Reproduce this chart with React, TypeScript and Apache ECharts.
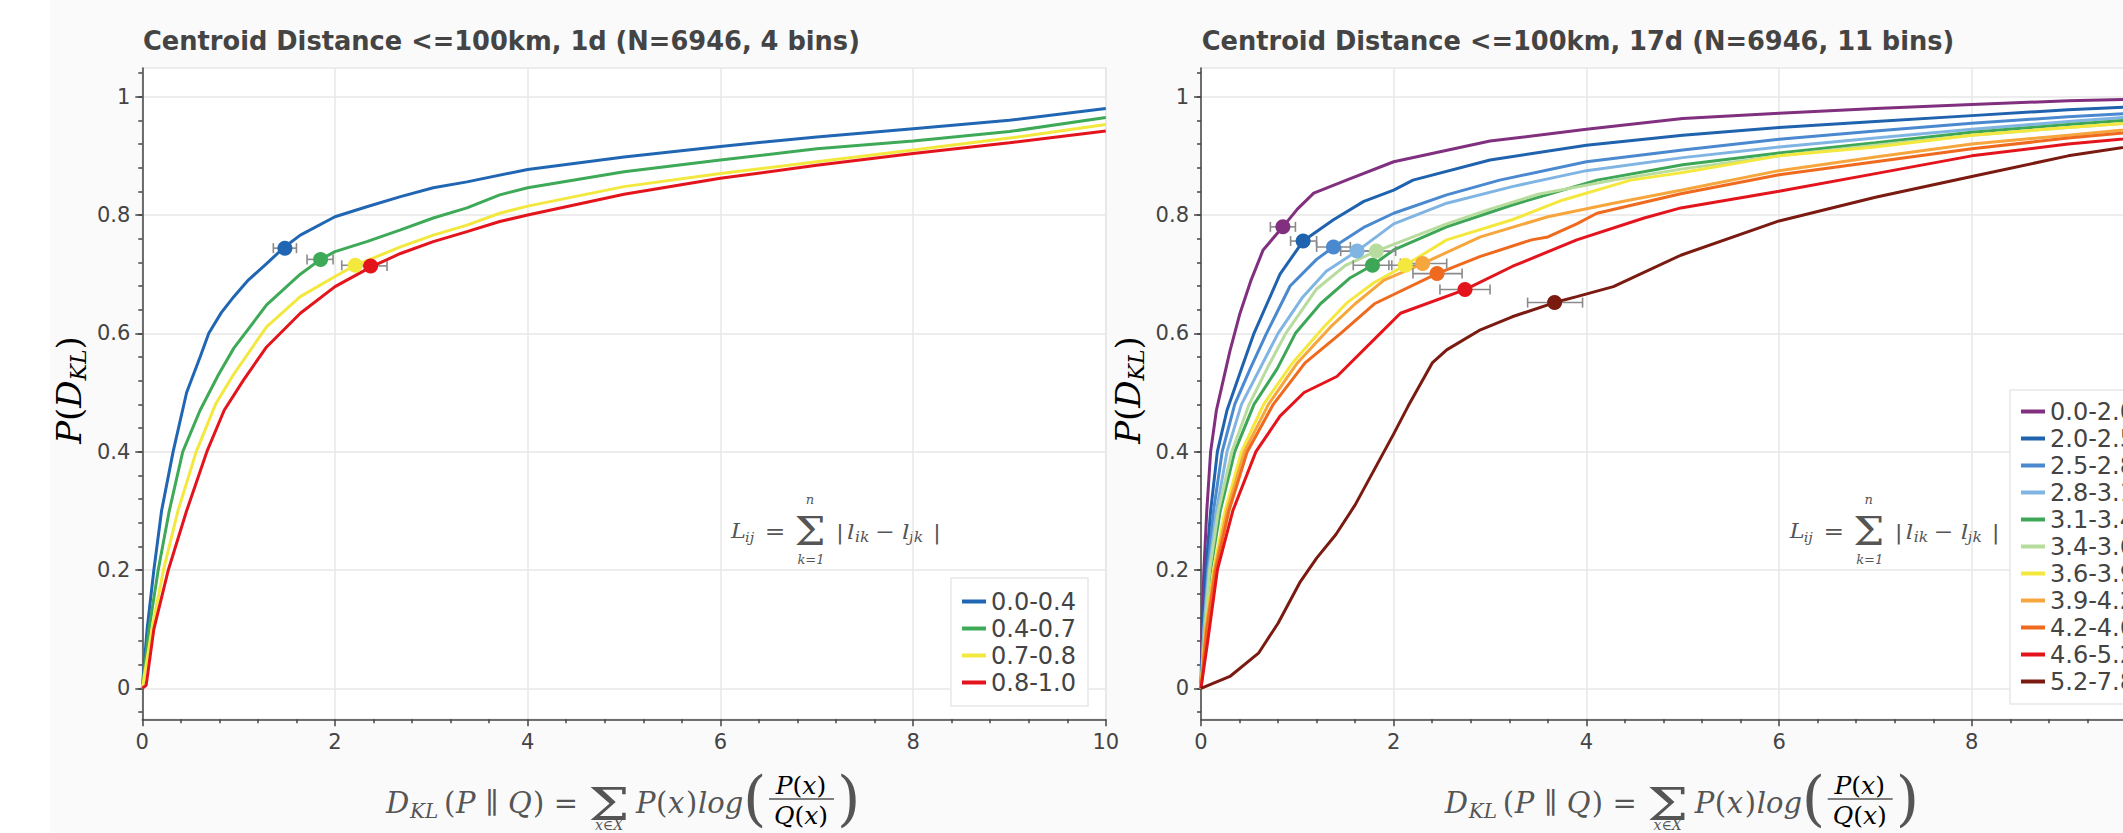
import React, { useEffect, useRef } from 'react';
import * as echarts from 'echarts';

// ---------- data: left figure (1d, 4 bins) ----------
const leftNames = ['0.0-0.4', '0.4-0.7', '0.7-0.8', '0.8-1.0'];
const leftColors = ['#2166b3', '#3eaa57', '#f3e83e', '#e3141c'];
const left_00_04 = [[0,0],[0.05,0.1],[0.12,0.2],[0.2,0.3],[0.32,0.4],[0.46,0.5],[0.6,0.56],[0.69,0.6],[0.82,0.635],[0.95,0.662],[1.1,0.69],[1.29,0.718],[1.47,0.745],[1.64,0.766],[2,0.797],[2.33,0.814],[2.68,0.831],[3.02,0.846],[3.37,0.856],[4,0.877],[5,0.898],[6,0.916],[7,0.932],[8,0.946],[9,0.96],[10,0.98]];
const left_04_07 = [[0,0],[0.07,0.1],[0.165,0.2],[0.28,0.3],[0.42,0.4],[0.6,0.47],[0.79,0.53],[0.95,0.575],[1.29,0.648],[1.64,0.7],[1.85,0.725],[2,0.738],[2.33,0.755],[2.68,0.775],[3.02,0.795],[3.37,0.812],[3.71,0.834],[4,0.846],[5,0.873],[6,0.893],[7,0.912],[8,0.925],[9,0.941],[10,0.965]];
const left_07_08 = [[0,0],[0.1,0.1],[0.22,0.2],[0.37,0.3],[0.56,0.4],[0.76,0.48],[0.945,0.53],[1.29,0.611],[1.64,0.662],[2,0.696],[2.21,0.715],[2.68,0.746],[3.02,0.766],[3.37,0.783],[3.71,0.803],[4,0.815],[5,0.848],[6,0.87],[7,0.89],[8,0.91],[9,0.93],[10,0.953]];
const left_08_10 = [[0,0],[0.04,0.005],[0.12,0.1],[0.27,0.2],[0.46,0.3],[0.67,0.4],[0.85,0.47],[1.05,0.521],[1.29,0.577],[1.64,0.634],[2,0.679],[2.37,0.712],[2.68,0.735],[3.02,0.755],[3.37,0.772],[3.71,0.789],[4,0.8],[5,0.835],[6,0.862],[7,0.884],[8,0.904],[9,0.922],[10,0.942]];
const leftCurves = [left_00_04, left_04_07, left_07_08, left_08_10];
// median marker: [x, y, errLow, errHigh]
const leftMedians = [[1.48,0.744,1.36,1.60],[1.85,0.725,1.71,1.98],[2.21,0.715,2.07,2.35],[2.37,0.714,2.23,2.54]];

// ---------- data: right figure (17d, 11 bins) ----------
const rightNames = ['0.0-2.0','2.0-2.5','2.5-2.8','2.8-3.1','3.1-3.4','3.4-3.6','3.6-3.9','3.9-4.2','4.2-4.6','4.6-5.2','5.2-7.8'];
const rightColors = ['#80307f','#1f62ad','#4a89cf','#80b5e3','#3ea757','#b7dc9d','#f4e83f','#f6a63c','#ef6a1e','#e4141c','#7a1a10'];
const r_00_20 = [[0,0],[0.01,0.1],[0.03,0.2],[0.06,0.3],[0.1,0.4],[0.16,0.47],[0.23,0.52],[0.3,0.57],[0.405,0.634],[0.52,0.69],[0.645,0.741],[0.85,0.78],[1.0,0.81],[1.17,0.837],[1.51,0.859],[2,0.89],[3,0.925],[4,0.945],[5,0.963],[6,0.972],[7,0.98],[8,0.987],[9,0.993],[10,0.997]];
const r_20_25 = [[0,0],[0.02,0.1],[0.05,0.2],[0.1,0.3],[0.17,0.4],[0.27,0.47],[0.42,0.54],[0.55,0.6],[0.82,0.7],[1.06,0.756],[1.375,0.792],[1.69,0.823],[2,0.842],[2.2,0.859],[3,0.893],[4,0.918],[5,0.935],[6,0.948],[7,0.958],[8,0.968],[9,0.978],[10,0.985]];
const r_25_28 = [[0,0],[0.03,0.1],[0.07,0.2],[0.13,0.3],[0.22,0.4],[0.35,0.48],[0.51,0.54],[0.68,0.6],[0.925,0.68],[1.2,0.725],[1.375,0.746],[1.7,0.78],[2,0.803],[2.55,0.834],[3.1,0.859],[4,0.89],[5,0.91],[6,0.928],[7,0.942],[8,0.955],[9,0.966],[10,0.975]];
const r_28_31 = [[0,0],[0.03,0.1],[0.08,0.2],[0.16,0.3],[0.27,0.4],[0.42,0.48],[0.61,0.54],[0.8,0.6],[1.05,0.66],[1.3,0.705],[1.62,0.739],[2,0.785],[2.55,0.82],[3.23,0.848],[4,0.875],[5,0.897],[6,0.915],[7,0.93],[8,0.945],[9,0.958],[10,0.97]];
const r_31_34 = [[0,0],[0.04,0.1],[0.1,0.2],[0.2,0.3],[0.35,0.4],[0.55,0.48],[0.79,0.54],[0.98,0.6],[1.24,0.65],[1.55,0.694],[1.78,0.715],[2,0.741],[2.55,0.78],[3.23,0.817],[4.11,0.859],[5,0.885],[6,0.905],[7,0.922],[8,0.94],[9,0.953],[10,0.965]];
const r_34_36 = [[0,0],[0.04,0.1],[0.09,0.2],[0.18,0.3],[0.32,0.4],[0.5,0.48],[0.7,0.545],[0.88,0.6],[1.2,0.675],[1.5,0.715],[1.82,0.739],[2.2,0.763],[2.55,0.785],[3,0.81],[3.5,0.835],[4.28,0.859],[5,0.878],[6,0.9],[7,0.918],[8,0.935],[9,0.948],[10,0.96]];
const r_36_39 = [[0,0],[0.05,0.1],[0.13,0.2],[0.25,0.3],[0.42,0.4],[0.65,0.48],[0.95,0.55],[1.27,0.61],[1.51,0.651],[1.79,0.685],[2.12,0.715],[2.55,0.758],[3.23,0.792],[3.75,0.825],[4.46,0.859],[5,0.872],[6,0.9],[7,0.915],[8,0.935],[9,0.948],[10,0.96]];
const r_39_42 = [[0,0],[0.05,0.1],[0.14,0.2],[0.27,0.3],[0.45,0.4],[0.7,0.48],[1.0,0.55],[1.34,0.61],[1.6,0.65],[1.9,0.69],[2.3,0.718],[2.9,0.763],[3.6,0.797],[4.28,0.82],[4.98,0.842],[6,0.875],[7,0.898],[8,0.92],[9,0.935],[10,0.95]];
const r_42_46 = [[0,0],[0.06,0.1],[0.15,0.2],[0.29,0.3],[0.48,0.4],[0.75,0.48],[1.08,0.55],[1.45,0.6],[1.8,0.65],[2.45,0.701],[2.9,0.73],[3.43,0.758],[3.6,0.763],[3.9,0.785],[4.11,0.803],[4.98,0.836],[6,0.868],[7,0.89],[8,0.912],[9,0.93],[10,0.945]];
const r_46_52 = [[0,0],[0.07,0.08],[0.17,0.2],[0.33,0.3],[0.57,0.4],[0.82,0.46],[1.07,0.5],[1.41,0.527],[1.86,0.6],[2.07,0.634],[2.74,0.674],[3.23,0.713],[3.9,0.758],[4.6,0.795],[4.98,0.812],[6,0.84],[7,0.87],[8,0.9],[9,0.92],[10,0.935]];
const r_52_78 = [[0,0],[0.3,0.02],[0.6,0.06],[0.8,0.11],[1.03,0.18],[1.2,0.22],[1.4,0.26],[1.6,0.31],[1.8,0.37],[2.0,0.43],[2.15,0.477],[2.4,0.55],[2.55,0.572],[2.9,0.606],[3.23,0.628],[3.67,0.652],[3.9,0.662],[4.28,0.679],[4.98,0.732],[6,0.79],[7,0.83],[8,0.865],[9,0.9],[10,0.925]];
const rightCurves = [r_00_20, r_20_25, r_25_28, r_28_31, r_31_34, r_34_36, r_36_39, r_39_42, r_42_46, r_46_52, r_52_78];
const rightMedians = [[0.85,0.78,0.72,0.98],[1.06,0.756,0.93,1.2],[1.375,0.746,1.2,1.55],[1.62,0.739,1.45,1.8],[1.78,0.715,1.58,1.98],[1.82,0.739,1.65,2.02],[2.12,0.715,1.95,2.3],[2.3,0.718,2.07,2.55],[2.45,0.701,2.2,2.71],[2.74,0.674,2.48,3.0],[3.67,0.652,3.39,3.96]];

// ---------- axis ticks ----------
const xMajor = 2;
const yMajorTicks = [0, 0.2, 0.4, 0.6, 0.8, 1];
const yMinorTicks = [-0.04,0,0.04,0.08,0.12,0.16,0.2,0.24,0.28,0.32,0.36,0.4,0.44,0.48,0.52,0.56,0.6,0.64,0.68,0.72,0.76,0.8,0.84,0.88,0.92,0.96,1,1.04];
const titles = ['Centroid Distance <=100km, 1d (N=6946, 4 bins)', 'Centroid Distance <=100km, 17d (N=6946, 11 bins)'];

const FONT = "'DejaVu Sans', 'Liberation Sans', sans-serif";
const MATH = "'DejaVu Serif', 'Liberation Serif', serif";
const TXT = '#444';
const MC = '#555';
const GRIDC = '#e7e7e7';

const Y_MIN = -0.0524;
const Y_MAX = 1.0485;
const GRID_TOP = 68;
const GRID_H = 651.3;
const GRID_W = 963.5;
const GRID_LEFT = [142.3, 1201];
const FIG_DX = 1058.7;

// one math glyph run
function mt(text: string, x: number, y: number, size: number, italic: boolean, align = 'left', sx = 1, lh?: number) {
  const style: any = { text, font: `${italic ? 'italic ' : ''}${size}px ${MATH}`, fill: MC, align, verticalAlign: 'middle' };
  if (lh) style.lineHeight = lh;
  return { type: 'text', x, y, scaleX: sx, silent: true, style };
}
function mrich(text: string, x: number, y: number, size: number) {
  return {
    type: 'text', x, y, silent: true,
    style: {
      text, align: 'center', verticalAlign: 'middle',
      rich: {
        i: { fontFamily: MATH, fontStyle: 'italic', fontSize: size, color: MC },
        n: { fontFamily: MATH, fontSize: size, color: MC },
      },
    },
  };
}

function figGraphics(dx: number, k: number) {
  const els: any[] = [];
  // title
  els.push({ type: 'text', x: 143 + dx, y: 41, silent: true, style: { text: titles[k], font: `bold 25.7px ${FONT}`, fill: TXT, verticalAlign: 'middle' } });
  // y label  P(D_KL)
  els.push({
    type: 'text', x: 69 + dx, y: 390, rotation: Math.PI / 2, silent: true,
    style: {
      text: '{i|P}{n|(}{i|D}{s|KL}{n|)}', align: 'center', verticalAlign: 'middle',
      rich: {
        i: { fontFamily: MATH, fontStyle: 'italic', fontSize: 34, color: '#666', lineHeight: 40 },
        n: { fontFamily: MATH, fontSize: 34, color: '#666', lineHeight: 40 },
        s: { fontFamily: MATH, fontStyle: 'italic', fontSize: 22, color: '#666', lineHeight: 22, verticalAlign: 'bottom' },
      },
    },
  });
  // x label  D_KL(P||Q) = sum_{x in X} P(x) log( P(x)/Q(x) )
  const yc = 803;
  els.push(mt('D', 386 + dx, yc, 29, true));
  els.push(mt('KL', 410 + dx, yc + 8, 20, true));
  els.push(mt('(', 444 + dx, yc, 29, false));
  els.push(mt('P', 456 + dx, yc, 29, true));
  els.push(mt('∥', 492 + dx, yc, 29, false, 'center'));
  els.push(mt('Q', 508 + dx, yc, 29, true));
  els.push(mt(')', 533 + dx, yc, 29, false));
  els.push(mt('=', 566 + dx, yc, 29, false, 'center'));
  els.push(mt('Σ', 609 + dx, yc + 1, 45, false, 'center', 1.3, 46));
  els.push(mt('x∈X', 609 + dx, yc + 22, 14, true, 'center', 1, 16));
  els.push(mt('P', 636 + dx, yc, 29, true));
  els.push(mt('(', 656 + dx, yc, 29, false));
  els.push(mt('x', 668 + dx, yc, 29, true));
  els.push(mt(')', 686 + dx, yc, 29, false));
  els.push(mt('log', 698 + dx, yc, 29, true));
  els.push(mt('(', 743 + dx, yc - 5, 60, false, 'left', 1, 60));
  els.push(mrich('{i|P}{n|(}{i|x}{n|)}', 801 + dx, yc - 18, 25));
  els.push({ type: 'line', silent: true, shape: { x1: 769 + dx, y1: yc - 4, x2: 834 + dx, y2: yc - 4 }, style: { stroke: MC, lineWidth: 1.4 } });
  els.push(mrich('{i|Q}{n|(}{i|x}{n|)}', 801 + dx, yc + 12, 25));
  els.push(mt(')', 837 + dx, yc - 5, 60, false, 'left', 1, 60));
  // L_ij annotation
  const ly = 531;
  const sx = 1.12;
  els.push(mt('L', 731 + dx, ly, 20, true, 'left', sx));
  els.push(mt('ij', 745 + dx, ly + 6, 13, true, 'left', sx));
  els.push(mt('=', 775 + dx, ly, 22, false, 'center', sx));
  els.push(mt('Σ', 810 + dx, ly, 40, false, 'center', 1.1, 40));
  els.push(mt('n', 810 + dx, ly - 32, 13, true, 'center'));
  els.push(mt('k=1', 811 + dx, ly + 28, 13, true, 'center'));
  els.push(mt('|', 836 + dx, ly, 21, false, 'left', sx));
  els.push(mt('l', 847 + dx, ly, 21, true, 'left', sx));
  els.push(mt('ik', 855 + dx, ly + 6, 14, true, 'left', sx));
  els.push(mt('−', 885 + dx, ly, 21, false, 'center', sx));
  els.push(mt('l', 902 + dx, ly, 21, true, 'left', sx));
  els.push(mt('jk', 909 + dx, ly + 6, 14, true, 'left', sx));
  els.push(mt('|', 933 + dx, ly, 21, false, 'left', sx));
  return els;
}

function buildOption() {
  const grids = GRID_LEFT.map((l) => ({ left: l, top: GRID_TOP, width: GRID_W, height: GRID_H, show: true, backgroundColor: '#ffffff', borderColor: GRIDC, borderWidth: 1.5, containLabel: false }));
  const xAxis = [0, 1].map((g) => ({
    type: 'value', gridIndex: g, min: 0, max: 10, interval: xMajor,
    axisLine: { show: true, onZero: false, lineStyle: { color: TXT, width: 1.5 } },
    axisTick: { show: true, length: 7, lineStyle: { color: TXT, width: 1.5 } },
    minorTick: { show: true, splitNumber: 5, length: 4, lineStyle: { color: TXT, width: 1.5 } },
    axisLabel: { margin: 12, fontSize: 21, color: TXT, fontFamily: FONT },
    splitLine: { show: true, lineStyle: { color: GRIDC, width: 1.5 } },
  }));
  const yAxis: any[] = [];
  [0, 1].forEach((g) => {
    yAxis.push({
      type: 'value', gridIndex: g, position: 'left', min: Y_MIN, max: Y_MAX,
      axisLine: { show: true, onZero: false, lineStyle: { color: TXT, width: 1.5 } },
      axisTick: { show: true, length: 7, customValues: yMajorTicks, lineStyle: { color: TXT, width: 1.5 } },
      axisLabel: {
        margin: 12, fontSize: 21, color: TXT, fontFamily: FONT, customValues: yMajorTicks,
        formatter: (v: number) => (Math.abs(v * 5 - Math.round(v * 5)) < 1e-6 ? String(Math.round(v * 10) / 10) : ''),
      },
      splitLine: { show: true, lineStyle: { color: GRIDC, width: 1.5 } },
    });
    yAxis.push({
      type: 'value', gridIndex: g, position: 'left', min: Y_MIN, max: Y_MAX,
      axisLine: { show: false, onZero: false },
      axisTick: { show: true, length: 4, customValues: yMinorTicks, lineStyle: { color: TXT, width: 1.5 } },
      axisLabel: { show: false },
      splitLine: { show: false },
    });
  });

  const series: any[] = [];
  const addFig = (g: number, names: string[], colors: string[], curves: number[][][], meds: number[][]) => {
    curves.forEach((c, i) => {
      series.push({
        type: 'line', name: names[i], xAxisIndex: g, yAxisIndex: g * 2, data: c, showSymbol: false, symbol: 'none',
        lineStyle: { width: 3, color: colors[i] }, itemStyle: { color: colors[i] }, z: 2, silent: true, clip: true,
      });
    });
    series.push({
      type: 'custom', name: 'err' + g, xAxisIndex: g, yAxisIndex: g * 2, data: meds, z: 3, silent: true,
      encode: { x: 0, y: 1 },
      renderItem: (_p: any, api: any) => {
        const y = api.value(1);
        const a = api.coord([api.value(2), y]);
        const b = api.coord([api.value(3), y]);
        const st = { stroke: '#8a8a8a', lineWidth: 1.6 };
        return {
          type: 'group', children: [
            { type: 'line', shape: { x1: a[0], y1: a[1], x2: b[0], y2: b[1] }, style: st },
            { type: 'line', shape: { x1: a[0], y1: a[1] - 5, x2: a[0], y2: a[1] + 5 }, style: st },
            { type: 'line', shape: { x1: b[0], y1: b[1] - 5, x2: b[0], y2: b[1] + 5 }, style: st },
          ],
        };
      },
    });
    series.push({
      type: 'scatter', name: 'med' + g, xAxisIndex: g, yAxisIndex: g * 2, symbolSize: 15, z: 4, silent: true,
      data: meds.map((m, i) => ({ value: [m[0], m[1]], itemStyle: { color: colors[i], opacity: 1 } })),
    });
  };
  addFig(0, leftNames, leftColors, leftCurves, leftMedians);
  addFig(1, rightNames, rightColors, rightCurves, rightMedians);

  const legendBase = {
    orient: 'vertical', itemWidth: 24, itemHeight: 4, itemGap: 0, icon: 'rect', selectedMode: false,
    backgroundColor: '#ffffff', borderColor: GRIDC, borderWidth: 1.5, borderRadius: 0,
    textStyle: { fontSize: 24, color: TXT, fontFamily: FONT, lineHeight: 27 },
  };
  const legend = [
    { ...legendBase, left: 951, top: 578, padding: [10, 12, 10, 11], data: leftNames },
    { ...legendBase, left: 2010, top: 390, padding: [8, 12, 9, 11], data: rightNames },
  ];

  const graphic = [
    { type: 'rect', shape: { x: 50, y: 0, width: 1080, height: 833 }, style: { fill: '#fafafa' }, z: -10, silent: true },
    { type: 'rect', shape: { x: 50 + FIG_DX, y: 0, width: 1080, height: 833 }, style: { fill: '#fafafa' }, z: -10, silent: true },
    ...figGraphics(0, 0),
    ...figGraphics(FIG_DX, 1),
  ];

  return { animation: false, backgroundColor: '#ffffff', grid: grids, xAxis, yAxis, series, legend, graphic };
}

export default function App() {
  const ref = useRef<HTMLDivElement>(null);
  useEffect(() => {
    if (!ref.current) return;
    const chart = echarts.init(ref.current, undefined, { renderer: 'svg' });
    chart.setOption(buildOption() as any);
    return () => chart.dispose();
  }, []);
  return (
    <div style={{ position: 'fixed', left: 0, top: 0, width: '100vw', height: '100vh', overflow: 'hidden', background: '#fff' }}>
      <div ref={ref} style={{ width: 2260, height: 833 }} />
    </div>
  );
}
